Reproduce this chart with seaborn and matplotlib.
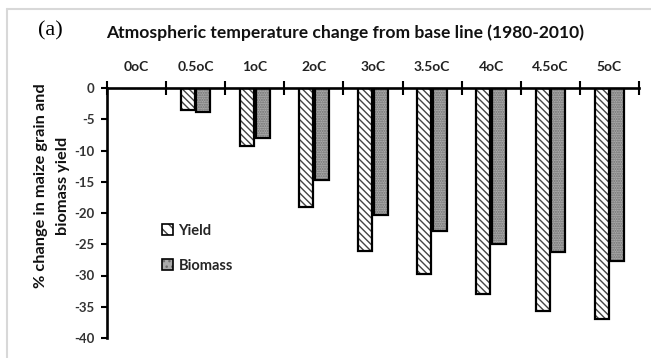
import matplotlib
matplotlib.use("Agg")
import matplotlib.pyplot as plt
import matplotlib.patches as mpatches
from matplotlib.lines import Line2D
import pandas as pd
import seaborn as sns

# Warming scenarios relative to the 1980-2010 baseline
categories = ["0oC", "0.5oC", "1oC", "2oC", "3oC", "3.5oC", "4oC", "4.5oC", "5oC"]
# % change in maize grain yield and biomass yield
yield_change = [0.0, -3.5, -9.3, -19.0, -26.0, -29.7, -33.0, -35.6, -36.9]
biomass_change = [0.0, -3.9, -8.0, -14.7, -20.3, -22.9, -25.0, -26.2, -27.6]
series = ["Yield", "Biomass"]
y_ticks = [0, -5, -10, -15, -20, -25, -30, -35, -40]

df = pd.DataFrame({
    "scenario": categories * 2,
    "change": yield_change + biomass_change,
    "series": [series[0]] * len(categories) + [series[1]] * len(categories),
})

sns.set_style("white")
plt.rcParams["font.family"] = ["Lato", "DejaVu Sans"]
plt.rcParams["hatch.linewidth"] = 1.0

W, H = 651, 358
fig = plt.figure(figsize=(W / 100, H / 100), dpi=100)
ax = fig.add_axes([107 / W, 1 - 338 / H, (639 - 107) / W, (338 - 88) / H])

face = {"Yield": "white", "Biomass": "#ababab"}
sns.barplot(data=df, x="scenario", y="change", hue="series",
            order=categories, hue_order=series, palette=face,
            width=0.525, gap=0.1, edgecolor="black", linewidth=1.6,
            legend=False, ax=ax)

hatches = {"Yield": "\\\\\\\\\\", "Biomass": "......."}
hatch_col = {"Yield": "#444444", "Biomass": "#6e6e6e"}
for name, cont in zip(series, ax.containers):
    for bar in cont:
        bar.set_hatch(hatches[name])
        bar._hatch_color = matplotlib.colors.to_rgba(hatch_col[name])

ax.set_xlim(-0.5, len(categories) - 0.5)
ax.set_ylim(-40, 0)
ax.set_xlabel("")
ax.set_ylabel("")

# axes lines: x axis along the zero line at top, y axis on the left
for side in ["right", "bottom"]:
    ax.spines[side].set_visible(False)
for side in ["top", "left"]:
    ax.spines[side].set_linewidth(1.9)
    ax.spines[side].set_color("black")

ax.xaxis.tick_top()
ax.set_xticks(range(len(categories)))
ax.set_xticklabels(categories, fontsize=10, fontweight="bold", color="#222222")
ax.set_xticks([i - 0.5 for i in range(len(categories) + 1)], minor=True)
ax.tick_params(axis="x", which="major", length=0, pad=11, top=True, bottom=False)
ax.tick_params(axis="x", which="minor", direction="inout", length=10, width=1.5,
               top=True, bottom=False, color="black")

ax.set_yticks(y_ticks)
ax.set_yticklabels([str(v) for v in y_ticks], fontsize=9.5, fontweight="bold",
                   color="#333333")
ax.tick_params(axis="y", direction="out", length=4, width=1.5, left=True,
               color="black", pad=5)
ax.grid(False)

# legend placed inside the plot area
handles = [mpatches.Patch(facecolor=face[s], edgecolor="black", linewidth=1.2,
                          hatch=hatches[s][:3]) for s in series]
for h, s in zip(handles, series):
    h._hatch_color = matplotlib.colors.to_rgba(hatch_col[s])
leg = ax.legend(handles, series, loc="upper left", bbox_to_anchor=(0.078, 0.51),
                frameon=False, handlelength=0.75, handleheight=0.75,
                handletextpad=0.4, labelspacing=1.45,
                prop={"weight": "bold", "size": 10.5})

# titles and axis label
fig.text(345 / W, 1 - 33 / H, "Atmospheric temperature change from base line (1980-2010)",
         ha="center", va="center", fontsize=12.6, fontweight="bold", color="#111111")
fig.text(50 / W, 1 - 31 / H, "(a)", ha="center", va="center", fontsize=16,
         family=["Liberation Serif", "DejaVu Serif"], color="black")
fig.text(41 / W, 1 - 186 / H, "% change in maize grain and", rotation=90,
         ha="center", va="center", fontsize=11.8, fontweight="bold", color="#111111")
fig.text(63 / W, 1 - 186 / H, "biomass yield", rotation=90,
         ha="center", va="center", fontsize=11.8, fontweight="bold", color="#111111")

# light frame along the top and left edges
fig.add_artist(Line2D([7 / W, 1], [1 - 9 / H, 1 - 9 / H], transform=fig.transFigure,
                      color="#d8d8d8", linewidth=1.5))
fig.add_artist(Line2D([7 / W, 7 / W], [0, 1 - 9 / H], transform=fig.transFigure,
                      color="#d8d8d8", linewidth=1.5))

fig.savefig("out.png", dpi=100)
